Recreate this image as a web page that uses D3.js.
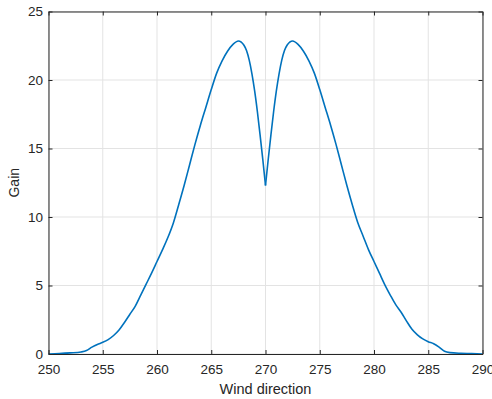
<!DOCTYPE html>
<html><head><meta charset="utf-8">
<script src="https://cdn.jsdelivr.net/npm/d3@7"></script>
<style>body{margin:0;background:#fff}svg{display:block}</style>
</head><body>
<script>
const direction = [250,251,252,253,253.5,254,254.5,255,255.5,256,256.5,257,257.5,258,258.5,259,259.5,260,260.5,261,261.5,262,262.5,263,263.5,264,264.5,265,265.5,266,266.5,267,267.5,268,268.25,268.5,268.75,269,269.25,269.5,269.75,270,
270.25,270.5,270.75,271,271.25,271.5,271.75,272,272.5,273,273.5,274,274.5,275,275.5,276,276.5,277,277.5,278,278.5,279,279.5,280,280.5,281,281.5,282,282.5,283,283.5,284,284.5,285,285.5,286,286.5,287,288,289,290];
const gain = [0,0.03,0.08,0.15,0.25,0.5,0.7,0.85,1.05,1.35,1.75,2.3,2.9,3.5,4.3,5.1,5.9,6.75,7.6,8.5,9.55,10.9,12.3,13.8,15.3,16.7,18.0,19.3,20.5,21.4,22.1,22.6,22.85,22.55,22.15,21.45,20.45,19.2,17.7,16.0,14.2,12.3,
14.2,16.0,17.7,19.2,20.45,21.45,22.15,22.55,22.85,22.6,22.1,21.4,20.5,19.3,18.0,16.7,15.3,13.8,12.3,10.9,9.6,8.6,7.6,6.75,5.9,5.05,4.3,3.6,3.05,2.4,1.8,1.4,1.1,0.9,0.75,0.5,0.2,0.1,0.05,0.03,0];
const xTicks = [250,255,260,265,270,275,280,285,290];
const yTicks = [0,5,10,15,20,25];

const W=492,H=399;
const m={l:48.5,r:482.5,t:11.5,b:354};
const svg=d3.select("body").append("svg").attr("width",W).attr("height",H);
const x=d3.scaleLinear().domain([250,290]).range([m.l,m.r]);
const y=d3.scaleLinear().domain([0,25]).range([m.b,m.t]);
const font="'Liberation Sans', Arial, Helvetica, sans-serif";
const axisCol="#262626";

// grid
svg.append("g").selectAll("line").data(xTicks).join("line")
  .attr("x1",d=>x(d)).attr("x2",d=>x(d)).attr("y1",m.t).attr("y2",m.b)
  .attr("stroke","#e3e3e3").attr("stroke-width",1);
svg.append("g").selectAll("line").data(yTicks).join("line")
  .attr("y1",d=>y(d)).attr("y2",d=>y(d)).attr("x1",m.l).attr("x2",m.r)
  .attr("stroke","#e3e3e3").attr("stroke-width",1);

// curve: two smooth branches meeting at the cusp (270)
const pts=direction.map((d,i)=>[d,gain[i]]);
const cusp=direction.indexOf(270);
const branches=[pts.slice(0,cusp+1),pts.slice(cusp)];
const line=d3.line().x(d=>x(d[0])).y(d=>y(d[1])).curve(d3.curveMonotoneX);
svg.append("g").selectAll("path").data(branches).join("path").attr("d",line).attr("fill","none")
  .attr("stroke","#0072BD").attr("stroke-width",1.6).attr("stroke-linejoin","round");

// axes
const ax=d3.axisBottom(x).tickValues(xTicks).tickSizeInner(-4).tickSizeOuter(0).tickPadding(10.5);
svg.append("g").attr("transform",`translate(0,${m.b})`).call(ax);
const axT=d3.axisTop(x).tickValues(xTicks).tickSizeInner(-4).tickSizeOuter(0).tickFormat("");
svg.append("g").attr("transform",`translate(0,${m.t})`).call(axT);
const ay=d3.axisLeft(y).tickValues(yTicks).tickSizeInner(-4).tickSizeOuter(0).tickPadding(5.5);
svg.append("g").attr("transform",`translate(${m.l},0)`).call(ay);
const ayR=d3.axisRight(y).tickValues(yTicks).tickSizeInner(-4).tickSizeOuter(0).tickFormat("");
svg.append("g").attr("transform",`translate(${m.r},0)`).call(ayR);
svg.selectAll(".domain").attr("stroke",axisCol).attr("stroke-width",1);
svg.selectAll(".tick line").attr("stroke",axisCol);
svg.selectAll(".tick text").attr("fill",axisCol).style("font-family",font).style("font-size","13.5px");

svg.append("text").attr("x",(m.l+m.r)/2).attr("y",394).attr("text-anchor","middle")
  .attr("fill",axisCol).style("font-family",font).style("font-size","14.5px").text("Wind direction");
svg.append("text").attr("transform",`translate(19,${(m.t+m.b)/2}) rotate(-90)`).attr("text-anchor","middle")
  .attr("fill",axisCol).style("font-family",font).style("font-size","14px").text("Gain");
</script>
</body></html>
